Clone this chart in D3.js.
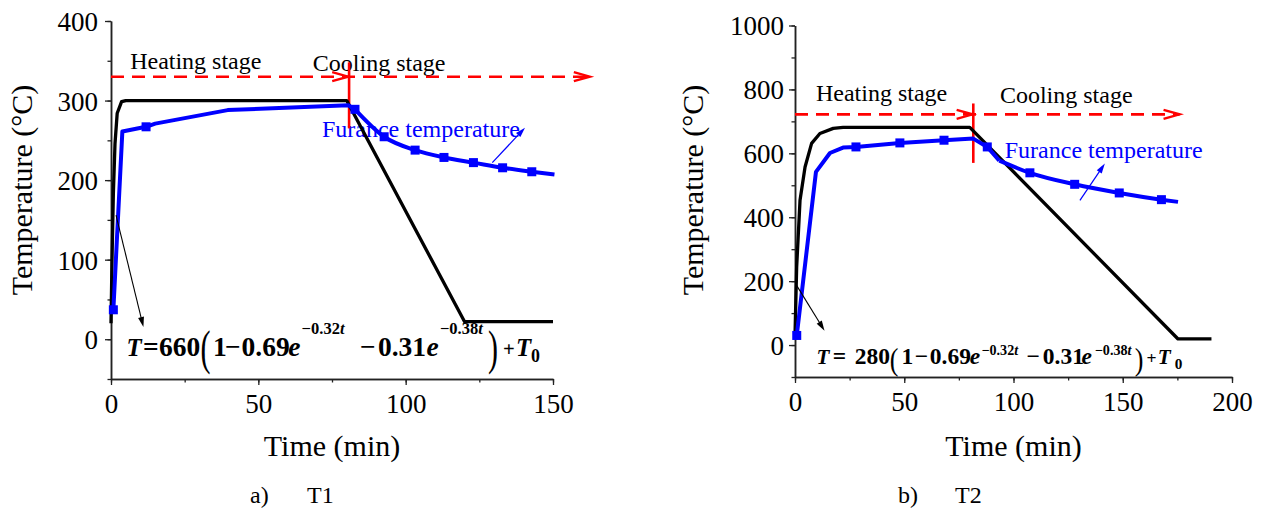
<!DOCTYPE html>
<html>
<head>
<meta charset="utf-8">
<script src="https://cdn.jsdelivr.net/npm/d3@7"></script>
<style>
  html, body { margin: 0; padding: 0; background: #fff; }
  svg { display: block; font-family: "Liberation Serif", "Times New Roman", serif; }
</style>
</head>
<body>
<svg id="chart" width="1266" height="513"></svg>
<script>
// ---------- Panel a) T1 ----------
const timeTicksT1 = [0, 50, 100, 150];
const tempTicksT1 = [0, 100, 200, 300, 400];
// calculated curve (time min, temperature °C)
const simulatedT1 = [[0, 20], [0.34, 99], [0.8, 183], [1.36, 246], [2.1, 284], [3.6, 298.6], [5, 300], [80, 300], [120, 22], [150, 22]];
// measured furnace temperature
const furnaceHeatingT1 = [[0.8, 37], [3.85, 261], [11.9, 267], [15, 271], [39.6, 288], [80.5, 294], [82.8, 289]];
const furnaceCoolingT1 = [[82.8, 289], [92.7, 254.5], [103.2, 237.7], [113, 228.5], [123, 222], [132.9, 215.5], [142.8, 210.5], [150.5, 207]];
const furnaceMarkersT1 = [[0.8, 37], [11.9, 267], [82.8, 289], [92.7, 254.5], [103.2, 237.7], [113, 228.5], [123, 222], [132.9, 215.5], [142.8, 210.5]];
const stageLevelT1 = 330, stageSwitchT1 = 80.8, stageEndT1 = 162.5;
const formulaCoefT1 = "660";

// ---------- Panel b) T2 ----------
const timeTicksT2 = [0, 50, 100, 150, 200];
const tempTicksT2 = [0, 200, 400, 600, 800, 1000];
const simulatedT2 = [[0, 30], [0.76, 244], [2.3, 453], [4.6, 557], [7.6, 631], [11.4, 662], [17.5, 678], [22, 681], [80, 681], [175.3, 19], [190.6, 19]];
const furnaceHeatingT2 = [[0.8, 30], [9.6, 542], [16, 601], [22, 618], [27.9, 620], [48, 632.6], [68.2, 641], [81.6, 646], [88, 620], [93.5, 577]];
const furnaceCoolingT2 = [[93.5, 577], [107.5, 539], [128, 503], [148.4, 476], [167.7, 455], [175.3, 448]];
const furnaceMarkersT2 = [[0.8, 30], [27.9, 620], [48, 632.6], [68.2, 641], [88, 620], [107.5, 539], [128, 503], [148.4, 476], [167.7, 455]];
const stageLevelT2 = 722, stageSwitchT2 = 81.6, stageEndT2 = 176;
const formulaCoefT2 = "280";

const svg = d3.select("#chart");
const BLUE = "#0000ff", RED = "#ff0000", AXIS = "#222";
const SERIF = "'Liberation Serif', 'Times New Roman', serif";

function drawPanel(p) {
  const g = svg.append("g");
  const x = d3.scaleLinear().domain(p.xDomain).range(p.xRange);
  const y = d3.scaleLinear().domain(p.yDomain).range(p.yRange);

  // axes: minor ticks first, then majors with labels
  const minorX = d3.range(p.xDomain[0], p.xDomain[1] + 0.001, p.xMinor);
  const minorY = d3.range(0, p.yDomain[1] + 0.001, p.yMinor).concat(d3.range(-p.yMinor, p.yDomain[0] - 0.001, -p.yMinor));
  const y0 = p.yRange[0], x0 = p.xRange[0];

  const ax = g.append("g").attr("transform", `translate(0,${y0})`)
    .call(d3.axisBottom(x).tickValues(minorX).tickSize(3.5).tickSizeOuter(0).tickFormat(""));
  const ax2 = g.append("g").attr("transform", `translate(0,${y0})`)
    .call(d3.axisBottom(x).tickValues(p.xTicks).tickSize(6).tickSizeOuter(0).tickFormat(d3.format("d")));
  ax2.selectAll("text").attr("y", 34).attr("dy", 0).attr("font-size", 27).attr("fill", "#000")
    .attr("font-family", SERIF);
  const ay = g.append("g").attr("transform", `translate(${x0},0)`)
    .call(d3.axisLeft(y).tickValues(minorY).tickSize(3.5).tickSizeOuter(0).tickFormat(""));
  const ay2 = g.append("g").attr("transform", `translate(${x0},0)`)
    .call(d3.axisLeft(y).tickValues(p.yTicks).tickSize(6).tickSizeOuter(0).tickFormat(d3.format("d")));
  ay2.selectAll("text").attr("x", -p.yLabelGap).attr("dy", "0.35em").attr("font-size", 27).attr("fill", "#000")
    .attr("font-family", SERIF);
  [ax, ax2, ay, ay2].forEach(a => {
    a.selectAll("path.domain").attr("stroke", AXIS).attr("stroke-width", 1.5);
    a.selectAll(".tick line").attr("stroke", AXIS).attr("stroke-width", 1.3);
  });

  // axis titles
  g.append("text").attr("x", (p.xRange[0] + p.xRange[1]) / 2).attr("y", 456)
    .attr("text-anchor", "middle").attr("font-size", 30).text("Time (min)");
  g.append("text").attr("transform", `translate(${p.yTitleX},190) rotate(-90)`)
    .attr("text-anchor", "middle").attr("font-size", 30).text("Temperature (\u00B0C)");

  // stage labels and series label
  g.append("text").attr("x", x(p.heatLabel[0])).attr("y", y(p.heatLabel[1]))
    .attr("font-size", 24).text("Heating stage");
  g.append("text").attr("x", x(p.coolLabel[0])).attr("y", y(p.coolLabel[1]))
    .attr("font-size", 24).text("Cooling stage");
  g.append("text").attr("x", x(p.furnLabel[0])).attr("y", y(p.furnLabel[1]))
    .attr("font-size", 24).attr("fill", BLUE).text("Furance temperature");

  // stage arrow: dashed line with chevrons, and the switch marker
  const ly = y(p.stageLevel);
  g.append("line").attr("x1", x(0)).attr("x2", x(p.stageEnd)).attr("y1", ly).attr("y2", ly)
    .attr("stroke", RED).attr("stroke-width", 2.6).attr("stroke-dasharray", "13,8");
  [p.stageSwitch - 0.3, p.stageEnd].forEach(t => {
    const tx = x(t);
    g.append("path").attr("d", `M${tx - 16},${ly - 4.5}L${tx},${ly}L${tx - 16},${ly + 4.5}`)
      .attr("fill", "none").attr("stroke", RED).attr("stroke-width", 2.4);
  });
  g.append("line").attr("x1", x(p.stageSwitch)).attr("x2", x(p.stageSwitch))
    .attr("y1", y(p.switchSpan[1])).attr("y2", y(p.switchSpan[0]))
    .attr("stroke", RED).attr("stroke-width", 2.6);

  // data
  const lin = d3.line().x(d => x(d[0])).y(d => y(d[1]));
  const smooth = d3.line().curve(d3.curveMonotoneX).x(d => x(d[0])).y(d => y(d[1]));
  g.append("path").attr("d", lin(p.sim)).attr("fill", "none").attr("stroke", "#000")
    .attr("stroke-width", 3.3).attr("stroke-linejoin", "round");
  g.append("path").attr("d", lin(p.heat)).attr("fill", "none").attr("stroke", BLUE)
    .attr("stroke-width", 4).attr("stroke-linejoin", "round");
  g.append("path").attr("d", smooth(p.cool)).attr("fill", "none").attr("stroke", BLUE)
    .attr("stroke-width", 4).attr("stroke-linejoin", "round");
  g.selectAll("rect.mk").data(p.markers).join("rect").attr("class", "mk")
    .attr("x", d => x(d[0]) - 4.5).attr("y", d => y(d[1]) - 4.5)
    .attr("width", 9).attr("height", 9).attr("fill", BLUE);

  // pointer arrows
  const arrow = (a, b, color, w) => {
    const x1 = x(a[0]), y1 = y(a[1]), x2 = x(b[0]), y2 = y(b[1]);
    const ang = Math.atan2(y2 - y1, x2 - x1), L = 10, H = 3;
    g.append("line").attr("x1", x1).attr("y1", y1).attr("x2", x2 - Math.cos(ang) * 4).attr("y2", y2 - Math.sin(ang) * 4)
      .attr("stroke", color).attr("stroke-width", w);
    const bx = x2 - Math.cos(ang) * L, by = y2 - Math.sin(ang) * L;
    const nx = -Math.sin(ang) * H, ny = Math.cos(ang) * H;
    g.append("path").attr("d", `M${x2},${y2}L${bx + nx},${by + ny}L${bx - nx},${by - ny}Z`).attr("fill", color);
  };
  arrow(p.simArrow[0], p.simArrow[1], "#000", 1.1);
  arrow(p.furnArrow[0], p.furnArrow[1], BLUE, 1.2);

  // fitted expression
  drawFormula(g, x(p.formulaAt[0]), y(p.formulaAt[1]), p.formula);

  // caption
  g.append("text").attr("x", p.caption.x).attr("y", 503).attr("font-size", 24).text(p.caption.tag);
  g.append("text").attr("x", p.caption.x + 57).attr("y", 503).attr("font-size", 24).text(p.caption.name);
}

// Typesets T = c(1 − 0.69e^(−0.32t) − 0.31e^(−0.38t)) + T0 piece by piece;
// f.at holds the horizontal offset of each piece from the formula origin.
function drawFormula(g, x0, y0, f) {
  const s = f.size, sup = s * 0.6, o = f.at;
  const fg = g.append("g").attr("transform", `translate(${x0},${y0})`)
    .attr("font-weight", "bold").attr("fill", "#000");
  const put = (str, dx, opt = {}) => {
    const t = fg.append("text").attr("x", dx).attr("y", opt.dy || 0)
      .attr("font-size", opt.size || s).text(str);
    if (opt.it) t.attr("font-style", "italic");
    return t;
  };
  const supPut = (num, dx) => {
    const t = fg.append("text").attr("x", dx).attr("y", -f.raise).attr("font-size", sup);
    t.append("tspan").text(num);
    t.append("tspan").attr("font-style", "italic").text("t");
  };
  const paren = (ch, dx) => {
    fg.append("text").attr("transform", `translate(${dx},${f.parenBase}) scale(1,${f.parenStretch})`)
      .attr("font-size", f.parenSize).attr("font-weight", "normal").text(ch);
  };
  put("T", o[0], { it: 1, size: s * 0.9 });
  put("=", o[1]);
  put(f.coef, o[2]);
  paren("(", o[3]);
  put("1", o[4]);
  put("\u2212", o[5]);
  put("0.69", o[6]);
  put("e", o[7], { it: 1 });
  supPut("\u22120.32", o[8]);
  put("\u2212", o[9]);
  put("0.31", o[10]);
  put("e", o[11], { it: 1 });
  supPut("\u22120.38", o[12]);
  paren(")", o[13]);
  put("+", o[14], { size: s * 0.75 });
  put("T", o[15], { it: 1, size: s * 0.9 });
  put("0", o[16], { size: s * 0.65, dy: f.subDrop });
}

drawPanel({
  xDomain: [0, 150], xRange: [111, 553], yDomain: [-50, 400], yRange: [379, 21],
  xTicks: timeTicksT1, yTicks: tempTicksT1, xMinor: 25, yMinor: 50, yLabelGap: 13, yTitleX: 32,
  sim: simulatedT1, heat: furnaceHeatingT1, cool: furnaceCoolingT1, markers: furnaceMarkersT1,
  stageLevel: stageLevelT1, stageSwitch: stageSwitchT1, stageEnd: stageEndT1, switchSpan: [265, 348],
  heatLabel: [6.5, 340], coolLabel: [68.5, 337], furnLabel: [71.6, 254],
  simArrow: [[1.7, 156], [11, 15.5]], furnArrow: [[129.4, 222], [140.5, 265.8]],
  formulaAt: [5.3, -21.4],
  formula: {
    coef: formulaCoefT1, size: 27.5, raise: 22.5, subDrop: 5.5,
    parenSize: 30, parenStretch: 1.6, parenBase: 7.3,
    at: [0, 16.5, 32.3, 74, 86.3, 98.3, 115, 161.6, 175, 233.3, 251.3, 300, 313.3, 361.3, 376.3, 389.5, 404.3]
  },
  caption: { x: 250, tag: "a)", name: "T1" }
});

drawPanel({
  xDomain: [0, 200], xRange: [795, 1232], yDomain: [-100, 1000], yRange: [377, 25.5],
  xTicks: timeTicksT2, yTicks: tempTicksT2, xMinor: 25, yMinor: 100, yLabelGap: 11, yTitleX: 703,
  sim: simulatedT2, heat: furnaceHeatingT2, cool: furnaceCoolingT2, markers: furnaceMarkersT2,
  stageLevel: stageLevelT2, stageSwitch: stageSwitchT2, stageEnd: stageEndT2, switchSpan: [570, 756],
  heatLabel: [9.6, 763], coolLabel: [93.8, 757], furnLabel: [96, 585],
  simArrow: [[0.8, 186], [13.5, 45]], furnArrow: [[130.4, 453], [141.8, 568]],
  formulaAt: [9.85, -59],
  formula: {
    coef: formulaCoefT2, size: 23.5, raise: 8.5, subDrop: 5,
    parenSize: 26, parenStretch: 1.25, parenBase: 6,
    at: [0, 16.3, 38.3, 73.3, 85, 98.3, 113.3, 153.3, 165, 210, 226.3, 265, 278.3, 318.3, 330, 341.3, 358.3]
  },
  caption: { x: 898, tag: "b)", name: "T2" }
});
</script>
</body>
</html>
